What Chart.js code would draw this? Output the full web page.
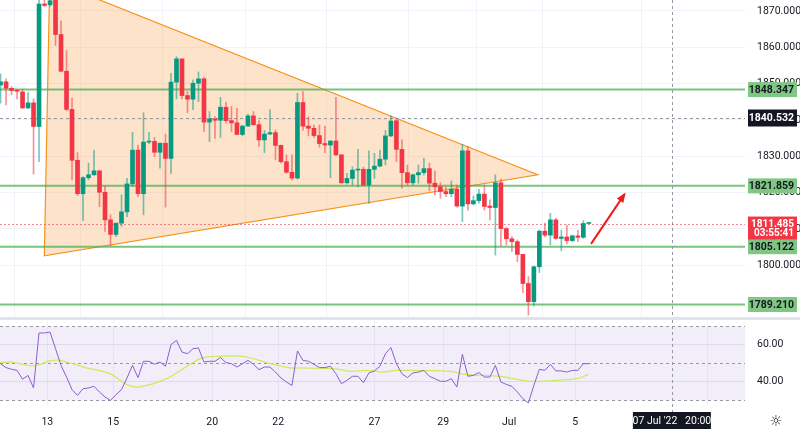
<!DOCTYPE html>
<html><head><meta charset="utf-8">
<script src="https://cdn.jsdelivr.net/npm/chart.js@4.4.0/dist/chart.umd.min.js"></script>
<style>
html,body{margin:0;padding:0;background:#fff;width:800px;height:432px;overflow:hidden;font-family:"Noto Sans",sans-serif}
#c1{position:absolute;left:0;top:0}
#c2{position:absolute;left:0;top:318px}
#sep{position:absolute;left:0;top:317px;width:800px;height:3px;background:#e0e3eb}
</style></head><body>
<canvas id="c1" width="800" height="318" style="width:800px;height:318px"></canvas>
<div id="sep"></div>
<canvas id="c2" width="800" height="114" style="width:800px;height:114px"></canvas>
<script>
const open=[1849.6,1850.5,1848.7,1848.1,1847.7,1843.3,1844.7,1838.2,1871.9,1871.7,1874.0,1863.5,1853.4,1842.9,1828.9,1819.7,1824.1,1824.9,1826.0,1820.1,1812.5,1808.5,1811.6,1814.7,1822.4,1831.7,1819.7,1833.9,1834.1,1831.1,1833.6,1829.4,1850.4,1856.8,1846.7,1845.7,1850.1,1851.3,1839.4,1840.3,1839.9,1843.5,1839.8,1839.2,1836.0,1838.3,1841.1,1838.7,1834.5,1836.1,1836.5,1833.0,1828.5,1825.6,1824.0,1844.8,1838.3,1837.7,1835.7,1833.5,1833.1,1834.2,1830.4,1822.7,1823.9,1826.2,1826.4,1822.1,1826.4,1827.3,1829.2,1835.6,1839.8,1831.9,1825.5,1822.7,1824.9,1825.5,1826.6,1822.6,1821.6,1820.3,1819.7,1820.9,1816.3,1831.5,1816.9,1817.8,1819.6,1816.3,1815.9,1822.7,1810.1,1807.3,1806.5,1803.0,1795.0,1790.0,1799.6,1809.4,1808.3,1812.5,1807.4,1807.8,1806.8,1808.1,1807.7,1811.5];
const high=[1852.7,1851.3,1849.2,1848.4,1848.4,1847.5,1845.8,1873.0,1873.0,1873.0,1875.0,1867.3,1859.1,1846.0,1831.0,1824.4,1828.1,1831.7,1826.0,1821.8,1813.9,1811.6,1819.4,1823.9,1836.6,1833.1,1842.0,1836.6,1835.2,1833.6,1836.1,1852.8,1857.4,1856.8,1847.8,1851.0,1853.2,1851.7,1842.3,1840.9,1846.2,1844.9,1843.7,1843.2,1838.5,1841.6,1842.3,1839.8,1837.1,1842.8,1837.2,1833.1,1830.4,1830.4,1847.3,1847.8,1840.9,1838.6,1838.6,1838.3,1834.3,1846.2,1830.4,1825.3,1827.1,1831.9,1827.0,1831.5,1830.8,1831.7,1837.1,1841.1,1840.5,1834.5,1827.6,1825.1,1827.6,1829.4,1828.1,1826.0,1822.7,1821.6,1823.2,1822.1,1833.3,1832.7,1819.1,1820.9,1822.1,1818.0,1824.9,1823.7,1810.5,1807.9,1807.0,1803.1,1796.9,1799.8,1809.7,1811.6,1814.3,1812.9,1809.7,1811.1,1808.3,1809.7,1812.3,1811.6];
const low=[1844.6,1844.1,1846.9,1845.8,1843.1,1843.1,1825.1,1828.5,1871.2,1871.2,1860.5,1853.2,1842.5,1823.5,1819.2,1812.3,1823.5,1824.7,1816.1,1809.3,1805.4,1807.9,1810.7,1813.4,1821.7,1818.9,1813.9,1833.4,1829.9,1826.7,1816.0,1825.3,1845.8,1845.8,1842.0,1842.8,1845.0,1836.8,1834.0,1834.9,1835.2,1839.1,1836.8,1835.9,1835.6,1838.3,1838.5,1832.7,1831.0,1836.0,1829.0,1828.1,1825.3,1823.5,1823.7,1837.2,1835.6,1835.1,1832.5,1831.0,1824.1,1830.1,1822.6,1822.4,1822.1,1821.6,1821.8,1817.0,1823.9,1827.1,1827.6,1835.4,1828.5,1821.2,1822.1,1822.1,1822.6,1824.9,1820.5,1819.4,1818.4,1818.9,1818.9,1816.0,1812.0,1815.2,1816.6,1817.1,1815.2,1812.5,1802.8,1805.3,1805.6,1803.8,1801.0,1792.5,1786.3,1788.8,1798.0,1807.9,1805.6,1807.2,1804.0,1805.9,1806.5,1806.5,1807.4,1811.4];
const close=[1850.5,1848.7,1848.1,1847.9,1843.3,1844.7,1838.2,1871.9,1871.5,1872.8,1863.5,1853.4,1842.9,1828.9,1819.7,1824.1,1824.9,1826.0,1820.1,1812.5,1808.5,1811.6,1814.7,1822.4,1831.7,1819.7,1833.9,1834.1,1831.1,1833.6,1829.4,1850.4,1856.8,1846.7,1845.7,1850.1,1851.3,1839.4,1840.3,1839.9,1843.5,1839.8,1839.2,1836.0,1838.3,1841.1,1838.7,1834.5,1836.1,1836.5,1833.0,1828.5,1825.6,1824.0,1844.8,1838.3,1837.7,1835.7,1833.5,1833.1,1834.2,1830.4,1822.7,1823.9,1826.2,1826.4,1822.1,1826.4,1827.3,1829.2,1835.6,1839.7,1831.9,1825.5,1822.7,1824.9,1825.5,1826.6,1822.6,1821.6,1820.3,1819.7,1820.9,1816.3,1831.5,1816.9,1817.8,1819.6,1816.2,1815.9,1822.7,1810.1,1807.3,1806.5,1803.0,1795.0,1790.0,1799.6,1809.4,1808.3,1812.5,1807.4,1807.8,1806.8,1808.1,1807.7,1811.5,1811.5];
const rsi=[49.8,47.7,46.8,46.2,41.4,43.5,36.7,66.4,66.4,66.9,57.9,48.9,42.6,35.8,32.7,36.3,36.7,37.6,34.5,31.8,30.0,33.1,35.8,42.1,48.9,42.3,51.1,51.1,49.5,50.7,48.4,60.1,62.4,56.1,55.2,57.9,58.3,50.7,51.1,51.1,53.1,50.4,49.8,48.0,49.8,51.6,49.5,46.6,48.0,48.0,45.3,42.1,39.9,38.1,56.7,51.6,51.1,49.5,47.7,47.7,48.4,44.4,39.0,40.8,43.0,43.0,39.5,44.8,45.9,48.4,55.2,58.5,49.8,44.4,42.3,44.8,45.3,46.2,43.0,41.7,40.3,40.3,41.7,37.2,54.9,43.0,43.5,45.0,42.6,42.6,48.9,39.9,38.6,37.6,34.5,30.9,28.6,38.1,46.8,46.2,49.5,45.9,45.9,45.3,46.2,46.2,49.8,49.8];
const rsiMaX=[-0.1,2.0,6.0,9.0,10.8,15.1,19.9,22.9,25.1,30.2,36.3,39.3,44.2,48.4,52.6,54.5,60.6,63.6,66.6,69.6,72.1,81.8,84.8,90.9,96.3,103.0,104.8,106.9];
const rsiMaY=[50.4,50.7,48.6,51.3,51.6,48.0,44.4,38.6,37.2,41.7,52.5,53.8,53.8,50.4,47.5,47.5,47.1,45.7,46.2,45.3,46.2,45.7,43.9,43.0,40.3,41.2,41.7,43.9];
const dayLabels=["13","15","20","22","27","29","Jul","5","11"];
const dayIdx=[8.5,20.5,38.5,50.5,68,80.5,92.5,104.5,128.5];
const levels=[1848.347,1821.859,1805.122,1789.210];
const triX=[8.95,7.96,97.7], triY=[1878.5,1802.6,1824.9];
const arrowX=[107.4,113.5], arrowY=[1805.9,1819.6];
const lastPrice=1811.485, countdown="03:55:41", crossPrice=1840.532, crossIdx=122.1, crossTime="07 Jul '22   20:00";

const GREEN='#089981', RED='#f23645';
const XMIN=-0.1, XMAX=135.4;
const n=open.length, idx=[...Array(n).keys()];
const up=idx.map(i=>close[i]>=open[i]);
const FF='Roboto,"Noto Sans",sans-serif';
const font={family:FF,size:10.5};
const fitY=s=>{s.width=55;s.paddingTop=0;s.paddingBottom=0;};
const fitX=h=>s=>{s.height=h;s.paddingLeft=0;s.paddingRight=0;};

const overlay={id:'ov',
 beforeDatasetsDraw(ch){
  const c=ch.ctx,x=ch.scales.x,y=ch.scales.y,a=ch.chartArea;
  c.save();c.beginPath();c.rect(a.left,a.top,a.right-a.left,a.bottom-a.top);c.clip();
  c.beginPath();
  triX.forEach((v,i)=>{const px=x.getPixelForValue(v),py=y.getPixelForValue(triY[i]);i?c.lineTo(px,py):c.moveTo(px,py);});
  c.closePath();c.fillStyle='rgba(249,168,90,0.32)';c.fill();c.strokeStyle='#f7931a';c.lineWidth=1.2;c.stroke();
  levels.forEach(l=>{const py=y.getPixelForValue(l);c.strokeStyle='rgba(76,175,80,0.75)';c.lineWidth=2;c.beginPath();c.moveTo(a.left,py);c.lineTo(a.right,py);c.stroke();});
  c.setLineDash([3,3]);c.lineWidth=1;
  let py=Math.round(y.getPixelForValue(crossPrice))+0.5;c.strokeStyle='#9598a1';c.beginPath();c.moveTo(a.left,py);c.lineTo(a.right,py);c.stroke();
  let px=Math.round(x.getPixelForValue(crossIdx))+0.5;c.beginPath();c.moveTo(px,a.top);c.lineTo(px,a.bottom);c.stroke();
  c.setLineDash([2,2]);py=Math.round(y.getPixelForValue(lastPrice))+0.5;c.strokeStyle='rgba(242,54,69,0.6)';c.beginPath();c.moveTo(a.left,py);c.lineTo(a.right,py);c.stroke();
  c.restore();
 },
 afterDatasetsDraw(ch){
  const c=ch.ctx,x=ch.scales.x,y=ch.scales.y,a=ch.chartArea;
  const x1=x.getPixelForValue(arrowX[0]),y1=y.getPixelForValue(arrowY[0]),x2=x.getPixelForValue(arrowX[1]),y2=y.getPixelForValue(arrowY[1]);
  c.save();c.strokeStyle='#f21a1a';c.fillStyle='#f21a1a';c.lineWidth=2;c.beginPath();c.moveTo(x1,y1);c.lineTo(x2,y2);c.stroke();
  const ang=Math.atan2(y2-y1,x2-x1),L=9;c.beginPath();c.moveTo(x2+2*Math.cos(ang),y2+2*Math.sin(ang));
  c.lineTo(x2-L*Math.cos(ang-0.45),y2-L*Math.sin(ang-0.45));c.lineTo(x2-L*Math.cos(ang+0.45),y2-L*Math.sin(ang+0.45));c.closePath();c.fill();
  c.font='bold 10.5px '+FF;c.textBaseline='middle';c.textAlign='right';
  const bx=748,bw=49,tx=794;
  const box=(v,bg,fg,h,t)=>{const py=y.getPixelForValue(v);c.fillStyle=bg;c.fillRect(bx,py-h/2,bw,h);c.fillStyle=fg;c.fillText(t,tx,py+0.5);};
  levels.forEach(l=>box(l,'#81c784','#131722',15,l.toFixed(3)));
  box(crossPrice,'#131722','#ffffff',17,crossPrice.toFixed(3));
  const py=y.getPixelForValue(lastPrice);c.fillStyle=RED;c.fillRect(bx,py-7,bw,23);c.fillStyle='#fff';c.font='bold 10px '+FF;c.fillText(lastPrice.toFixed(3),tx,py+0.5);c.fillText(countdown,tx,py+10);
  c.restore();
 }};

new Chart(document.getElementById('c1'),{type:'bar',
 data:{datasets:[
  {data:idx.map(i=>({x:i,y:[low[i],high[i]]})),backgroundColor:idx.map(i=>up[i]?'rgba(8,153,129,0.55)':'rgba(242,54,69,0.55)'),barThickness:1,grouped:false,order:2},
  {data:idx.map(i=>({x:i,y:[open[i],close[i]===open[i]?close[i]+0.15:close[i]]})),backgroundColor:idx.map(i=>up[i]?GREEN:RED),barThickness:4,grouped:false,order:1,minBarLength:1}
 ]},
 options:{animation:false,responsive:false,devicePixelRatio:1,layout:{padding:0,autoPadding:false},
  plugins:{legend:{display:false},title:{display:false},tooltip:{enabled:false}},
  scales:{
   x:{type:'linear',min:XMIN,max:XMAX,offset:false,ticks:{display:false},border:{display:false},grid:{color:'#f0f3fa',drawTicks:false,tickLength:0},
      afterBuildTicks:s=>{s.ticks=dayIdx.map(v=>({value:v}));},afterFit:fitX(0)},
   y:{position:'right',min:1785.5,max:1873.0,border:{display:false},grid:{color:'#f0f3fa',drawTicks:false},
      afterBuildTicks:s=>{s.ticks=[1800,1810,1820,1830,1840,1850,1860,1870].map(v=>({value:v}));},
      ticks:{color:'#131722',font,padding:12,callback:v=>v.toFixed(3)},afterFit:fitY}
  }},plugins:[overlay]});

const rsiPlug={id:'rp',
 beforeDatasetsDraw(ch){
  const c=ch.ctx,y=ch.scales.y,x=ch.scales.x,a=ch.chartArea;
  c.save();c.fillStyle='rgba(126,87,194,0.1)';const t=y.getPixelForValue(70),b=y.getPixelForValue(30);c.fillRect(a.left,t,a.right-a.left,b-t);
  c.setLineDash([3,3]);c.strokeStyle='#9598a1';c.lineWidth=1;
  [70,50,30].forEach(v=>{const py=Math.round(y.getPixelForValue(v))+0.5;c.beginPath();c.moveTo(a.left,py);c.lineTo(a.right,py);c.stroke();});
  const px=Math.round(x.getPixelForValue(crossIdx))+0.5;c.beginPath();c.moveTo(px,a.top);c.lineTo(px,a.bottom+8);c.stroke();
  c.restore();
 },
 afterDraw(ch){
  const c=ch.ctx,x=ch.scales.x,a=ch.chartArea;c.save();
  const px=x.getPixelForValue(crossIdx);c.fillStyle='#131722';c.fillRect(px-39,a.bottom+7,78,17);
  c.fillStyle='#fff';c.font='10.5px '+FF;c.textBaseline='middle';c.textAlign='center';c.fillText(crossTime,px,a.bottom+16);
  c.fillStyle='#131722';c.font='15px "DejaVu Sans",sans-serif';c.fillText('☼',776,a.bottom+17);
  c.restore();
 }};

new Chart(document.getElementById('c2'),{type:'line',
 data:{datasets:[
  {data:idx.map(i=>({x:i,y:rsi[i]})),borderColor:'#8e5ccf',borderWidth:1,pointRadius:0,tension:0},
  {data:rsiMaX.map((v,i)=>({x:v,y:rsiMaY[i]})),borderColor:'#d4e85a',borderWidth:1.3,pointRadius:0,tension:0.3}
 ]},
 options:{animation:false,responsive:false,devicePixelRatio:1,layout:{padding:{top:2},autoPadding:false},
  plugins:{legend:{display:false},title:{display:false},tooltip:{enabled:false}},
  scales:{
   x:{type:'linear',min:XMIN,max:XMAX,border:{display:false},grid:{color:'#f0f3fa',drawTicks:false},
      afterBuildTicks:s=>{s.ticks=dayIdx.map(v=>({value:v}));},
      ticks:{color:'#131722',font,padding:11,maxRotation:0,autoSkip:false,callback:(v,i)=>dayLabels[i]},afterFit:fitX(27)},
   y:{position:'right',min:27.5,max:73.4,border:{display:false},grid:{color:'#ebe7f3',drawTicks:false},
      afterBuildTicks:s=>{s.ticks=[40,60].map(v=>({value:v}));},
      ticks:{color:'#131722',font,padding:12,callback:v=>v.toFixed(2)},afterFit:fitY}
  }},plugins:[rsiPlug]});
</script></body></html>
